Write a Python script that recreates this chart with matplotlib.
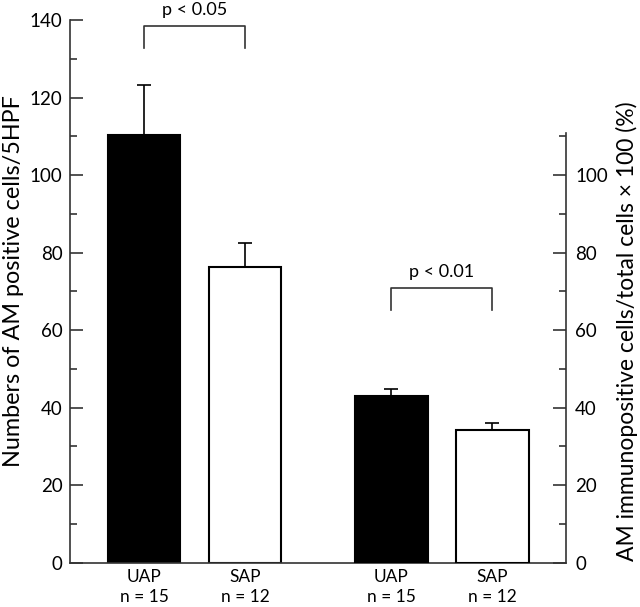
import numpy as np
import matplotlib
matplotlib.use("Agg")
import matplotlib.pyplot as plt

plt.rcParams['font.family'] = ['Lato', 'DejaVu Sans']

groups = ["UAP\nn = 15", "SAP\nn = 12", "UAP\nn = 15", "SAP\nn = 12"]
counts = [110.3, 76.3]          # AM positive cells / 5HPF (left axis)
counts_err = [12.9, 6.2]
percent = [43.1, 34.2]          # immunopositive / total x 100 (right axis)
percent_err = [1.7, 1.8]
pvals = ["p < 0.05", "p < 0.01"]

pos = np.array([0, 1, 2.45, 3.45])
width = 0.72
fills = ["black", "white"]
dark = "#333333"

fig = plt.figure(figsize=(6.4, 6.07), dpi=100)
ax = fig.add_axes([0.1094, 0.0733, 0.775, 0.8937])
ax2 = ax.twinx()

ax.bar(pos[:2], counts, width, color=fills, edgecolor="black", linewidth=1.5, zorder=2)
ax.errorbar(pos[:2], counts, yerr=[[0, 0], counts_err], fmt="none", ecolor="black",
            elinewidth=1.2, capsize=4.8, capthick=1.2, zorder=1)
ax2.bar(pos[2:], percent, width, color=fills, edgecolor="black", linewidth=1.5, zorder=2)
ax2.errorbar(pos[2:], percent, yerr=[[0, 0], percent_err], fmt="none", ecolor="black",
             elinewidth=1.2, capsize=4.8, capthick=1.2, zorder=1)

# significance brackets
ax.plot([pos[0], pos[0], pos[1], pos[1]], [132.8, 138.5, 138.5, 132.8], color=dark, lw=1.2)
ax.text((pos[0] + pos[1]) / 2, 140.5, pvals[0], ha="center", va="bottom", fontsize=13,
        clip_on=False)
ax2.plot([pos[2], pos[2], pos[3], pos[3]], [65.2, 70.8, 70.8, 65.2], color=dark, lw=1.2)
ax2.text((pos[2] + pos[3]) / 2, 73.0, pvals[1], ha="center", va="bottom", fontsize=13)

for a in (ax, ax2):
    a.set_xlim(-0.733, 4.178)
    a.set_ylim(0, 140)
    a.spines["top"].set_visible(False)
    for s in a.spines.values():
        s.set_color(dark)
        s.set_linewidth(1.2)

ax.spines["right"].set_visible(False)
ax2.spines["left"].set_visible(False)
ax2.spines["bottom"].set_visible(False)
ax2.spines["right"].set_bounds(0, 110.8)

ax.set_yticks(np.arange(0, 141, 20))
ax.set_yticks(np.arange(10, 140, 20), minor=True)
ax2.set_yticks(np.arange(0, 101, 20))
ax2.set_yticks(np.arange(10, 111, 20), minor=True)

ax.tick_params(axis="y", which="major", direction="in", length=9.5, width=1.2, color=dark,
               labelsize=13.5, pad=5.5)
ax.tick_params(axis="y", which="minor", direction="in", length=5, width=1.2, color=dark)
ax2.tick_params(axis="y", which="major", direction="in", length=9.5, width=1.2, color=dark,
                labelsize=13.5, pad=6.5)
ax2.tick_params(axis="y", which="minor", direction="in", length=5, width=1.2, color=dark)

ax.set_xticks(pos)
ax.set_xticklabels(groups, fontsize=12.5, linespacing=1.3)
ax.tick_params(axis="x", length=0, pad=5)

lab1 = ax.set_ylabel("Numbers of AM positive cells/5HPF", fontsize=14)
lab2 = ax2.set_ylabel("AM immunopositive cells/total cells \u00d7 100 (%)", fontsize=14,
                      rotation=90)

# fit label lengths to the reference (about 373 px and 462 px tall)
r = fig.canvas.get_renderer()
for lab, target in ((lab1, 373), (lab2, 462)):
    h = lab.get_window_extent(r).height
    lab.set_fontsize(14 * target / h)

ax.yaxis.set_label_coords(-0.093, 1 - (281 - 20) / 542.5)
ax2.yaxis.set_label_coords(1.1, 1 - (331 - 20) / 542.5)

fig.savefig("out.png", dpi=100)
